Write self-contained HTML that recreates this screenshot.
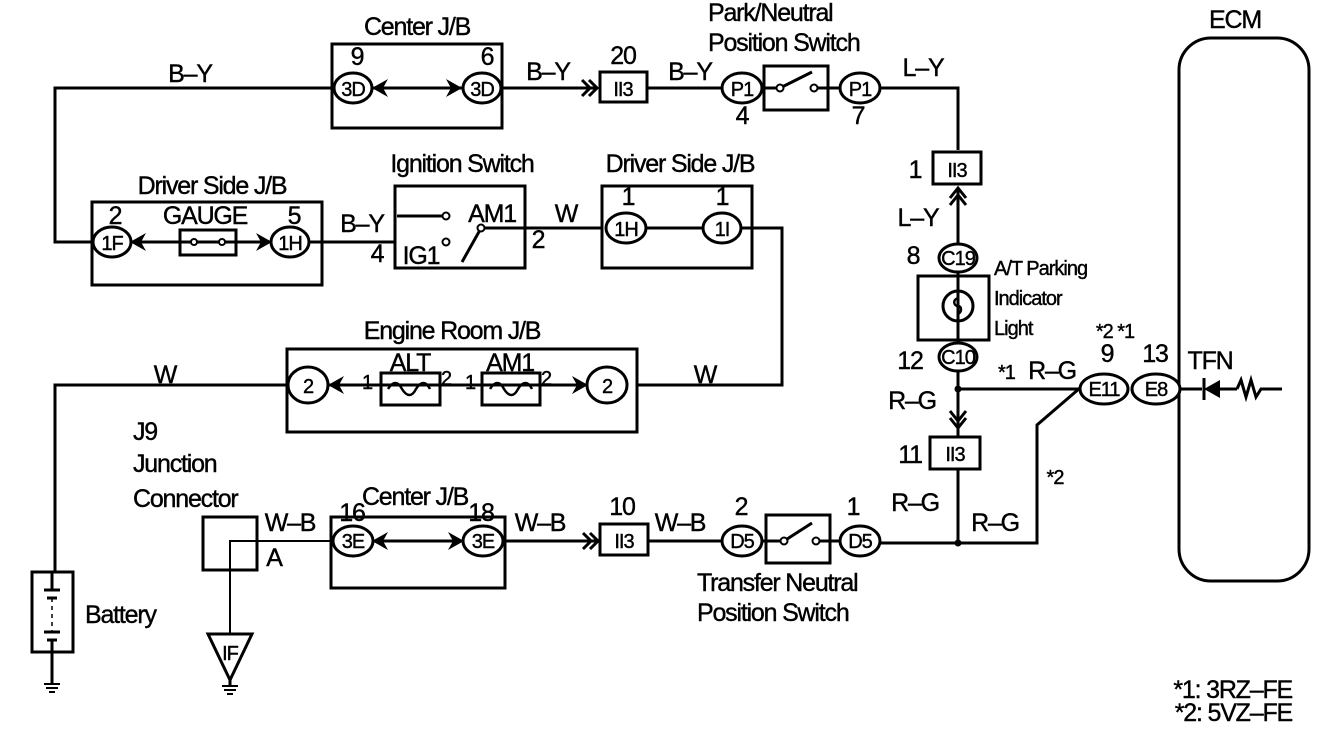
<!DOCTYPE html>
<html><head><meta charset="utf-8"><style>
html,body{margin:0;padding:0;background:#fff;}
svg{display:block;}
text{font-family:"Liberation Sans",sans-serif;font-size:25px;fill:#000;stroke:#000;stroke-width:0.4;letter-spacing:-1.2px;}
.s{font-size:20px;letter-spacing:-1px;}
</style></head><body>
<svg width="1328" height="730" viewBox="0 0 1328 730" xmlns="http://www.w3.org/2000/svg">
<g fill="none" stroke="#000" stroke-width="3">
<polyline points="335,88 55,88 55,242 95,242"/>
<rect x="332" y="44" width="170" height="84"/>
<line x1="372" y1="88" x2="462" y2="88"/>
<line x1="500" y1="88" x2="598" y2="88"/>
<polyline points="582,80 590,88 582,96"/><polyline points="589,80 597,88 589,96"/>
<rect x="600" y="72" width="47" height="30"/>
<line x1="647" y1="88" x2="722" y2="88"/>
<rect x="764" y="66" width="64" height="44"/>
<line x1="760" y1="88" x2="780" y2="88"/><line x1="780" y1="88" x2="812" y2="72"/><line x1="816" y1="88" x2="842" y2="88"/>
<polyline points="878,88 958,88 958,150"/>
<rect x="933" y="152" width="48" height="32"/>
<polyline points="950,198 958,188 966,198"/><polyline points="950,205 958,195 966,205"/>
<line x1="958" y1="188" x2="958" y2="246"/>
<rect x="918" y="276" width="71" height="64"/>
<line x1="958" y1="270" x2="958" y2="345"/>
<circle cx="958" cy="306" r="15"/>
<line x1="958" y1="370" x2="958" y2="437"/>
<polyline points="950,418 958,428 966,418"/><polyline points="950,411 958,421 966,411"/>
<line x1="958" y1="389" x2="1082" y2="389"/>
<rect x="930" y="437" width="50" height="32"/>
<polyline points="958,469 958,543"/>
<polyline points="878,543 1037,543 1037,425 1080,388"/>
<rect x="1179" y="38" width="130" height="543" rx="32"/>
<line x1="1172" y1="389" x2="1202" y2="389"/>
<line x1="1204" y1="378" x2="1204" y2="400"/>
<line x1="1220" y1="389" x2="1237" y2="389"/>
<polyline points="1237,389 1241,380 1246,397 1251,380 1256,397 1261,389 1282,389"/>
<rect x="92" y="202" width="230" height="83"/>
<line x1="130" y1="242" x2="272" y2="242"/>
<rect x="180" y="230" width="56" height="25"/>
<line x1="308" y1="242" x2="395" y2="242"/>
<rect x="395" y="186" width="130" height="82"/>
<line x1="397" y1="216" x2="443" y2="216"/>
<line x1="482" y1="228" x2="602" y2="228"/>
<line x1="480" y1="230" x2="462" y2="262"/>
<rect x="602" y="186" width="150" height="82"/>
<line x1="645" y1="228" x2="704" y2="228"/>
<polyline points="740,228 782,228 782,385 637,385"/>
<rect x="287" y="349" width="350" height="83"/>
<line x1="328" y1="385" x2="588" y2="385"/>
<rect x="381" y="373" width="59" height="32"/>
<rect x="482" y="373" width="58" height="32"/>
<polyline points="287,385 55,385 55,572"/>
<rect x="32" y="572" width="41" height="80"/>
<line x1="52" y1="572" x2="52" y2="590"/><line x1="52" y1="640" x2="52" y2="684"/>
<line x1="52" y1="598" x2="52" y2="632" stroke-dasharray="4,4" stroke-width="1.5"/>
<line x1="44" y1="590" x2="60" y2="590"/><line x1="47" y1="598" x2="57" y2="598"/>
<line x1="44" y1="632" x2="60" y2="632"/><line x1="47" y1="640" x2="57" y2="640"/>
<line x1="44" y1="684" x2="60" y2="684" stroke-width="2"/><line x1="46" y1="688" x2="58" y2="688" stroke-width="2"/><line x1="49" y1="692" x2="55" y2="692" stroke-width="2"/>
<rect x="203" y="517" width="54" height="53"/>
<polyline points="230,634 230,541 335,541" stroke-width="2"/>
<polygon points="208,634 252,634 230,680"/>
<line x1="230" y1="680" x2="230" y2="686"/>
<line x1="222" y1="686" x2="238" y2="686" stroke-width="2"/><line x1="224" y1="690" x2="236" y2="690" stroke-width="2"/><line x1="227" y1="694" x2="233" y2="694" stroke-width="2"/>
<rect x="331" y="517" width="174" height="71"/>
<line x1="372" y1="541" x2="464" y2="541"/>
<line x1="502" y1="541" x2="598" y2="541"/>
<polyline points="583,533 591,541 583,549"/><polyline points="590,533 598,541 590,549"/>
<rect x="600" y="524" width="48" height="31"/>
<line x1="648" y1="541" x2="722" y2="541"/>
<rect x="766" y="515" width="64" height="48"/>
<line x1="760" y1="541" x2="784" y2="541"/><line x1="784" y1="541" x2="812" y2="523"/><line x1="816" y1="541" x2="842" y2="541"/>
</g>
<g fill="#fff" stroke="#000" stroke-width="2">
<circle cx="780" cy="88" r="3.5"/><circle cx="814" cy="88" r="3.5"/>
<circle cx="784" cy="541" r="3.5"/><circle cx="816" cy="541" r="3.5"/>
<circle cx="446" cy="216" r="3.5"/><circle cx="446" cy="242" r="3.5"/><circle cx="481" cy="228" r="3.5"/>
<circle cx="194" cy="242" r="3"/><circle cx="222" cy="242" r="3"/>
</g>
<g fill="#000">
<circle cx="958" cy="389" r="3.5"/><circle cx="958" cy="543" r="3.5"/>
<polygon points="1204,389 1220,380 1220,398"/>
<polygon points="372,88 388,79 383,88 388,97"/><polygon points="462,88 446,79 451,88 446,97"/>
<polygon points="130,242 146,233 141,242 146,251"/><polygon points="272,242 256,233 261,242 256,251"/>
<polygon points="328,385 344,376 339,385 344,394"/><polygon points="588,385 572,376 577,385 572,394"/>
<polygon points="372,541 388,532 383,541 388,550"/><polygon points="464,541 448,532 453,541 448,550"/>
</g>
<g fill="#fff" stroke="#000" stroke-width="3">
<ellipse cx="353" cy="88" rx="19" ry="15"/><ellipse cx="482" cy="88" rx="19" ry="15"/>
<ellipse cx="742" cy="88" rx="20" ry="15"/><ellipse cx="860" cy="88" rx="20" ry="15"/>
<ellipse cx="112" cy="242" rx="19" ry="15"/><ellipse cx="290" cy="242" rx="19" ry="15"/>
<ellipse cx="626" cy="228" rx="20" ry="15"/><ellipse cx="722" cy="228" rx="19" ry="15"/>
<ellipse cx="308" cy="385" rx="20" ry="18"/><ellipse cx="607" cy="385" rx="20" ry="18"/>
<ellipse cx="958" cy="258" rx="19" ry="14"/><ellipse cx="958" cy="357" rx="19" ry="14"/>
<ellipse cx="1104" cy="389" rx="24" ry="15"/><ellipse cx="1156" cy="389" rx="24" ry="15"/>
<ellipse cx="353" cy="541" rx="20" ry="15"/><ellipse cx="483" cy="541" rx="20" ry="15"/>
<ellipse cx="742" cy="541" rx="20" ry="15"/><ellipse cx="860" cy="541" rx="20" ry="15"/>
</g>
<g stroke="#000" stroke-width="2.5" fill="none">
<path d="M388,389 c5,-8 10,-8 14,0 c5,8 10,8 14,0 c5,-8 10,-8 14,0"/>
<path d="M490,389 c5,-8 10,-8 14,0 c5,8 10,8 14,0 c5,-8 10,-8 14,0"/>
<path d="M958,298 c-6,2 -4,8 0,8 c4,0 4,6 0,8"/>
</g>
<text x="417" y="35" text-anchor="middle">Center J/B</text>
<text x="357" y="65" text-anchor="middle">9</text><text x="487" y="65" text-anchor="middle">6</text>
<text x="353" y="96" text-anchor="middle" class="s">3D</text><text x="482" y="96" text-anchor="middle" class="s">3D</text>
<text x="190" y="82" text-anchor="middle">B–Y</text>
<text x="548" y="80" text-anchor="middle">B–Y</text>
<text x="623" y="64" text-anchor="middle">20</text>
<text x="623" y="96" text-anchor="middle" class="s">II3</text>
<text x="690" y="80" text-anchor="middle">B–Y</text>
<text x="708" y="21">Park/Neutral</text>
<text x="708" y="51">Position Switch</text>
<text x="742" y="96" text-anchor="middle" class="s">P1</text><text x="860" y="96" text-anchor="middle" class="s">P1</text>
<text x="742" y="124" text-anchor="middle">4</text><text x="858" y="124" text-anchor="middle">7</text>
<text x="923" y="76" text-anchor="middle">L–Y</text>
<text x="1235" y="28" text-anchor="middle">ECM</text>
<text x="957" y="177" text-anchor="middle" class="s">II3</text><text x="915" y="178" text-anchor="middle">1</text>
<text x="918" y="226" text-anchor="middle">L–Y</text>
<text x="913" y="264" text-anchor="middle">8</text>
<text x="958" y="265" text-anchor="middle" class="s">C19</text>
<text x="994" y="275" class="s">A/T Parking</text>
<text x="994" y="305" class="s">Indicator</text>
<text x="994" y="335" class="s">Light</text>
<text x="1115" y="338" text-anchor="middle" class="s">*2 *1</text>
<text x="1107" y="362" text-anchor="middle">9</text><text x="1155" y="362" text-anchor="middle">13</text>
<text x="1210" y="369" text-anchor="middle">TFN</text>
<text x="910" y="369" text-anchor="middle">12</text>
<text x="958" y="364" text-anchor="middle" class="s">C10</text>
<text x="998" y="379" class="s">*1</text>
<text x="1052" y="379" text-anchor="middle">R–G</text>
<text x="1104" y="396" text-anchor="middle" class="s">E11</text><text x="1156" y="396" text-anchor="middle" class="s">E8</text>
<text x="912" y="409" text-anchor="middle">R–G</text>
<text x="955" y="461" text-anchor="middle" class="s">II3</text><text x="910" y="463" text-anchor="middle">11</text>
<text x="1055" y="484" text-anchor="middle" class="s">*2</text>
<text x="915" y="511" text-anchor="middle">R–G</text>
<text x="995" y="531" text-anchor="middle">R–G</text>
<text x="462" y="172" text-anchor="middle">Ignition Switch</text>
<text x="680" y="172" text-anchor="middle">Driver Side J/B</text>
<text x="212" y="194" text-anchor="middle">Driver Side J/B</text>
<text x="115" y="224" text-anchor="middle">2</text><text x="205" y="224" text-anchor="middle">GAUGE</text><text x="294" y="224" text-anchor="middle">5</text>
<text x="112" y="250" text-anchor="middle" class="s">1F</text><text x="290" y="250" text-anchor="middle" class="s">1H</text>
<text x="362" y="232" text-anchor="middle">B–Y</text><text x="377" y="262" text-anchor="middle">4</text>
<text x="421" y="264" text-anchor="middle">IG1</text>
<text x="492" y="222" text-anchor="middle">AM1</text>
<text x="538" y="248" text-anchor="middle">2</text>
<text x="566" y="222" text-anchor="middle">W</text>
<text x="628" y="205" text-anchor="middle">1</text><text x="722" y="205" text-anchor="middle">1</text>
<text x="626" y="236" text-anchor="middle" class="s">1H</text><text x="722" y="236" text-anchor="middle" class="s">1I</text>
<text x="452" y="339" text-anchor="middle">Engine Room J/B</text>
<text x="165" y="383" text-anchor="middle">W</text><text x="705" y="383" text-anchor="middle">W</text>
<text x="308" y="393" text-anchor="middle" class="s">2</text><text x="607" y="393" text-anchor="middle" class="s">2</text>
<text x="410" y="371" text-anchor="middle">ALT</text><text x="510" y="371" text-anchor="middle">AM1</text>
<text x="367" y="389" text-anchor="middle" class="s">1</text><text x="446" y="385" text-anchor="middle" class="s">2</text>
<text x="470" y="389" text-anchor="middle" class="s">1</text><text x="546" y="385" text-anchor="middle" class="s">2</text>
<text x="133" y="440">J9</text>
<text x="133" y="472">Junction</text>
<text x="133" y="507">Connector</text>
<text x="290" y="531" text-anchor="middle">W–B</text>
<text x="274" y="566" text-anchor="middle">A</text>
<text x="415" y="505" text-anchor="middle">Center J/B</text>
<text x="352" y="521" text-anchor="middle">16</text><text x="481" y="521" text-anchor="middle">18</text>
<text x="353" y="548" text-anchor="middle" class="s">3E</text><text x="483" y="548" text-anchor="middle" class="s">3E</text>
<text x="540" y="531" text-anchor="middle">W–B</text>
<text x="622" y="515" text-anchor="middle">10</text>
<text x="624" y="548" text-anchor="middle" class="s">II3</text>
<text x="680" y="531" text-anchor="middle">W–B</text>
<text x="741" y="515" text-anchor="middle">2</text><text x="853" y="515" text-anchor="middle">1</text>
<text x="742" y="548" text-anchor="middle" class="s">D5</text><text x="860" y="548" text-anchor="middle" class="s">D5</text>
<text x="697" y="591">Transfer Neutral</text>
<text x="697" y="621">Position Switch</text>
<text x="85" y="623">Battery</text>
<text x="230" y="660" text-anchor="middle" class="s">IF</text>
<text x="1292" y="698" text-anchor="end">*1: 3RZ–FE</text>
<text x="1292" y="721" text-anchor="end">*2: 5VZ–FE</text>
</svg>
</body></html>
